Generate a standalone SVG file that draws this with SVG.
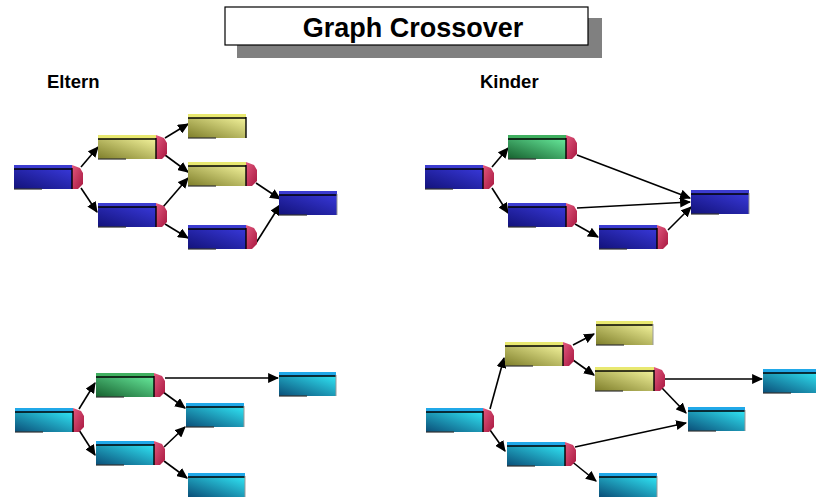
<svg xmlns="http://www.w3.org/2000/svg" width="816" height="497" viewBox="0 0 816 497">
<defs>
<linearGradient id="gBlue" x1="0" y1="1" x2="1" y2="0"><stop offset="0" stop-color="#12127a"/><stop offset="1" stop-color="#3838d8"/></linearGradient>
<linearGradient id="gYel" x1="0" y1="1" x2="1" y2="0"><stop offset="0" stop-color="#7e7e2a"/><stop offset="1" stop-color="#f2f29a"/></linearGradient>
<linearGradient id="gGrn" x1="0" y1="1" x2="1" y2="0"><stop offset="0" stop-color="#16602e"/><stop offset="1" stop-color="#66e89a"/></linearGradient>
<linearGradient id="gCyn" x1="0" y1="1" x2="1" y2="0"><stop offset="0" stop-color="#0a4e78"/><stop offset="1" stop-color="#30e4f4"/></linearGradient>
<linearGradient id="gPink" x1="0" y1="0" x2="1" y2="1"><stop offset="0" stop-color="#e2587e"/><stop offset="1" stop-color="#a81840"/></linearGradient>
<marker id="ah" viewBox="0 0 10 10" refX="9" refY="5" markerWidth="11" markerHeight="10" orient="auto" markerUnits="userSpaceOnUse" preserveAspectRatio="none">
<path d="M0,0 L10,5 L0,10 Z" fill="#000"/>
</marker>
</defs>
<style>
.title{font-family:"Liberation Sans",Arial,sans-serif;font-weight:bold;font-size:27px;fill:#000}
.lbl{font-family:"Liberation Sans",Arial,sans-serif;font-weight:bold;font-size:18.5px;fill:#000}
.top{stroke:none}
.ln{stroke:#000;stroke-width:1.4;fill:none}
.bl{stroke:#333;stroke-width:1.2}
.side{fill:url(#gPink)}
.blue .front{fill:url(#gBlue)} .blue .top{fill:#3c3cd0}
.yel .front{fill:url(#gYel)} .yel .top{fill:#e8e870}
.grn .front{fill:url(#gGrn)} .grn .top{fill:#40b060}
.cyn .front{fill:url(#gCyn)} .cyn .top{fill:#20a8e8}
.re{stroke:#999;stroke-width:1}
#connectors line{stroke:#000;stroke-width:1.6;marker-end:url(#ah)}
</style>
<rect width="816" height="497" fill="#fff"/>
<g id="title">
<rect x="237" y="18" width="365" height="40" fill="#808080"/>
<rect x="225" y="7" width="363" height="38" fill="#fff" stroke="#000" stroke-width="1.2"/>
<text class="title" x="413" y="37" text-anchor="middle">Graph Crossover</text>
</g>
<text class="lbl" x="47" y="88">Eltern</text>
<text class="lbl" x="480" y="88">Kinder</text>

<g id="connectors">
<line x1="81" y1="167" x2="98" y2="147"/>
<line x1="81" y1="188" x2="97" y2="212"/>
<line x1="165" y1="138" x2="188" y2="124"/>
<line x1="165" y1="155" x2="188" y2="172"/>
<line x1="163" y1="207" x2="188" y2="178"/>
<line x1="165" y1="224" x2="188" y2="238"/>
<line x1="256" y1="183" x2="280" y2="199"/>
<line x1="256" y1="243" x2="280" y2="205"/>

<line x1="492" y1="167" x2="508" y2="148"/>
<line x1="492" y1="188" x2="508" y2="213"/>
<line x1="577" y1="155" x2="690" y2="198"/>
<line x1="577" y1="208" x2="690" y2="202"/>
<line x1="575" y1="224" x2="598" y2="237"/>
<line x1="668" y1="230" x2="691" y2="207"/>

<line x1="79" y1="409" x2="95" y2="383"/>
<line x1="79" y1="430" x2="95" y2="455"/>
<line x1="165" y1="378" x2="278" y2="378"/>
<line x1="163" y1="392" x2="185" y2="408"/>
<line x1="164" y1="447" x2="185" y2="427"/>
<line x1="164" y1="461" x2="187" y2="478"/>

<line x1="490" y1="409" x2="504" y2="358"/>
<line x1="490" y1="430" x2="505" y2="451"/>
<line x1="573" y1="345" x2="594" y2="334"/>
<line x1="573" y1="360" x2="594" y2="375"/>
<line x1="665" y1="379" x2="762" y2="379"/>
<line x1="662" y1="388" x2="686" y2="413"/>
<line x1="575" y1="447" x2="686" y2="423"/>
<line x1="570" y1="460" x2="596" y2="481"/>
</g>

<!-- top-left: Eltern 1 -->
<g id="e1a" class="blue" transform="translate(14,165)"><rect class="top" x="0" y="0" width="58" height="4"/><rect class="front" x="0" y="4" width="58" height="20"/><line class="ln" x1="0" y1="4" x2="58" y2="4"/><line class="bl" x1="0" y1="24" x2="28" y2="24"/><path class="side" d="M58,0 L66,3 L69,8 L69,19 L64,24 L58,24Z"/><line class="ln" x1="58" y1="3" x2="58" y2="24"/></g>
<g id="e1b" class="yel" transform="translate(98,135)"><rect class="top" x="0" y="0" width="58" height="4"/><rect class="front" x="0" y="4" width="58" height="20"/><line class="ln" x1="0" y1="4" x2="58" y2="4"/><line class="bl" x1="0" y1="24" x2="28" y2="24"/><path class="side" d="M58,0 L66,3 L69,8 L69,19 L64,24 L58,24Z"/><line class="ln" x1="58" y1="3" x2="58" y2="24"/></g>
<g id="e1c" class="blue" transform="translate(98,203)"><rect class="top" x="0" y="0" width="58" height="4"/><rect class="front" x="0" y="4" width="58" height="20"/><line class="ln" x1="0" y1="4" x2="58" y2="4"/><line class="bl" x1="0" y1="24" x2="28" y2="24"/><path class="side" d="M58,0 L66,3 L69,8 L69,19 L64,24 L58,24Z"/><line class="ln" x1="58" y1="3" x2="58" y2="24"/></g>
<g id="e1d" class="yel" transform="translate(188,114)"><rect class="top" x="0" y="0" width="58" height="4"/><rect class="front" x="0" y="4" width="58" height="20"/><line class="ln" x1="0" y1="4" x2="58" y2="4"/><line class="bl" x1="0" y1="24" x2="28" y2="24"/><line class="ln" x1="58" y1="3" x2="58" y2="24"/></g>
<g id="e1e" class="yel" transform="translate(188,162)"><rect class="top" x="0" y="0" width="58" height="4"/><rect class="front" x="0" y="4" width="58" height="20"/><line class="ln" x1="0" y1="4" x2="58" y2="4"/><line class="bl" x1="0" y1="24" x2="28" y2="24"/><path class="side" d="M58,0 L66,3 L69,8 L69,19 L64,24 L58,24Z"/><line class="ln" x1="58" y1="3" x2="58" y2="24"/></g>
<g id="e1f" class="blue" transform="translate(188,225)"><rect class="top" x="0" y="0" width="58" height="4"/><rect class="front" x="0" y="4" width="58" height="20"/><line class="ln" x1="0" y1="4" x2="58" y2="4"/><line class="bl" x1="0" y1="24" x2="28" y2="24"/><path class="side" d="M58,0 L66,3 L69,8 L69,19 L64,24 L58,24Z"/><line class="ln" x1="58" y1="3" x2="58" y2="24"/></g>
<g id="e1g" class="blue" transform="translate(279,191)"><rect class="top" x="0" y="0" width="58" height="4"/><rect class="front" x="0" y="4" width="58" height="20"/><line class="ln" x1="0" y1="4" x2="58" y2="4"/><line class="bl" x1="0" y1="24" x2="28" y2="24"/><line class="re" x1="58" y1="3" x2="58" y2="24"/></g>

<!-- top-right: Kinder 1 -->
<g id="k1a" class="blue" transform="translate(425,165)"><rect class="top" x="0" y="0" width="58" height="4"/><rect class="front" x="0" y="4" width="58" height="20"/><line class="ln" x1="0" y1="4" x2="58" y2="4"/><line class="bl" x1="0" y1="24" x2="28" y2="24"/><path class="side" d="M58,0 L66,3 L69,8 L69,19 L64,24 L58,24Z"/><line class="ln" x1="58" y1="3" x2="58" y2="24"/></g>
<g id="k1b" class="grn" transform="translate(508,135)"><rect class="top" x="0" y="0" width="58" height="4"/><rect class="front" x="0" y="4" width="58" height="20"/><line class="ln" x1="0" y1="4" x2="58" y2="4"/><line class="bl" x1="0" y1="24" x2="28" y2="24"/><path class="side" d="M58,0 L66,3 L69,8 L69,19 L64,24 L58,24Z"/><line class="ln" x1="58" y1="3" x2="58" y2="24"/></g>
<g id="k1c" class="blue" transform="translate(508,203)"><rect class="top" x="0" y="0" width="58" height="4"/><rect class="front" x="0" y="4" width="58" height="20"/><line class="ln" x1="0" y1="4" x2="58" y2="4"/><line class="bl" x1="0" y1="24" x2="28" y2="24"/><path class="side" d="M58,0 L66,3 L69,8 L69,19 L64,24 L58,24Z"/><line class="ln" x1="58" y1="3" x2="58" y2="24"/></g>
<g id="k1d" class="blue" transform="translate(599,225)"><rect class="top" x="0" y="0" width="58" height="4"/><rect class="front" x="0" y="4" width="58" height="20"/><line class="ln" x1="0" y1="4" x2="58" y2="4"/><line class="bl" x1="0" y1="24" x2="28" y2="24"/><path class="side" d="M58,0 L66,3 L69,8 L69,19 L64,24 L58,24Z"/><line class="ln" x1="58" y1="3" x2="58" y2="24"/></g>
<g id="k1e" class="blue" transform="translate(691,190)"><rect class="top" x="0" y="0" width="58" height="4"/><rect class="front" x="0" y="4" width="58" height="20"/><line class="ln" x1="0" y1="4" x2="58" y2="4"/><line class="bl" x1="0" y1="24" x2="28" y2="24"/><line class="re" x1="58" y1="3" x2="58" y2="24"/></g>

<!-- bottom-left: Eltern 2 -->
<g id="e2a" class="cyn" transform="translate(15,408)"><rect class="top" x="0" y="0" width="58" height="4"/><rect class="front" x="0" y="4" width="58" height="20"/><line class="ln" x1="0" y1="4" x2="58" y2="4"/><line class="bl" x1="0" y1="24" x2="28" y2="24"/><path class="side" d="M58,0 L66,3 L69,8 L69,19 L64,24 L58,24Z"/><line class="ln" x1="58" y1="3" x2="58" y2="24"/></g>
<g id="e2b" class="grn" transform="translate(96,373)"><rect class="top" x="0" y="0" width="58" height="4"/><rect class="front" x="0" y="4" width="58" height="20"/><line class="ln" x1="0" y1="4" x2="58" y2="4"/><line class="bl" x1="0" y1="24" x2="28" y2="24"/><path class="side" d="M58,0 L66,3 L69,8 L69,19 L64,24 L58,24Z"/><line class="ln" x1="58" y1="3" x2="58" y2="24"/></g>
<g id="e2c" class="cyn" transform="translate(96,441)"><rect class="top" x="0" y="0" width="58" height="4"/><rect class="front" x="0" y="4" width="58" height="20"/><line class="ln" x1="0" y1="4" x2="58" y2="4"/><line class="bl" x1="0" y1="24" x2="28" y2="24"/><path class="side" d="M58,0 L66,3 L69,8 L69,19 L64,24 L58,24Z"/><line class="ln" x1="58" y1="3" x2="58" y2="24"/></g>
<g id="e2d" class="cyn" transform="translate(279,372)"><rect class="top" x="0" y="0" width="57" height="4"/><rect class="front" x="0" y="4" width="57" height="20"/><line class="ln" x1="0" y1="4" x2="57" y2="4"/><line class="bl" x1="0" y1="24" x2="28" y2="24"/><line class="re" x1="57" y1="3" x2="57" y2="24"/></g>
<g id="e2e" class="cyn" transform="translate(186,403)"><rect class="top" x="0" y="0" width="58" height="4"/><rect class="front" x="0" y="4" width="58" height="20"/><line class="ln" x1="0" y1="4" x2="58" y2="4"/><line class="bl" x1="0" y1="24" x2="28" y2="24"/><line class="re" x1="58" y1="3" x2="58" y2="24"/></g>
<g id="e2f" class="cyn" transform="translate(188,473)"><rect class="top" x="0" y="0" width="57" height="4"/><rect class="front" x="0" y="4" width="57" height="20"/><line class="ln" x1="0" y1="4" x2="57" y2="4"/><line class="re" x1="57" y1="3" x2="57" y2="24"/></g>

<!-- bottom-right: Kinder 2 -->
<g id="k2a" class="cyn" transform="translate(426,408)"><rect class="top" x="0" y="0" width="57" height="4"/><rect class="front" x="0" y="4" width="57" height="20"/><line class="ln" x1="0" y1="4" x2="57" y2="4"/><line class="bl" x1="0" y1="24" x2="28" y2="24"/><path class="side" d="M57,0 L65,3 L68,8 L68,19 L63,24 L57,24Z"/><line class="ln" x1="57" y1="3" x2="57" y2="24"/></g>
<g id="k2b" class="yel" transform="translate(505,342)"><rect class="top" x="0" y="0" width="58" height="4"/><rect class="front" x="0" y="4" width="58" height="20"/><line class="ln" x1="0" y1="4" x2="58" y2="4"/><line class="bl" x1="0" y1="24" x2="28" y2="24"/><path class="side" d="M58,0 L66,3 L69,8 L69,19 L64,24 L58,24Z"/><line class="ln" x1="58" y1="3" x2="58" y2="24"/></g>
<g id="k2c" class="cyn" transform="translate(507,442)"><rect class="top" x="0" y="0" width="58" height="4"/><rect class="front" x="0" y="4" width="58" height="20"/><line class="ln" x1="0" y1="4" x2="58" y2="4"/><line class="bl" x1="0" y1="24" x2="28" y2="24"/><path class="side" d="M58,0 L66,3 L69,8 L69,19 L64,24 L58,24Z"/><line class="ln" x1="58" y1="3" x2="58" y2="24"/></g>
<g id="k2d" class="yel" transform="translate(596,321)"><rect class="top" x="0" y="0" width="57" height="4"/><rect class="front" x="0" y="4" width="57" height="20"/><line class="ln" x1="0" y1="4" x2="57" y2="4"/><line class="bl" x1="0" y1="24" x2="28" y2="24"/><line class="re" x1="57" y1="3" x2="57" y2="24"/></g>
<g id="k2e" class="yel" transform="translate(595,367)"><rect class="top" x="0" y="0" width="59" height="4"/><rect class="front" x="0" y="4" width="59" height="20"/><line class="ln" x1="0" y1="4" x2="59" y2="4"/><line class="bl" x1="0" y1="24" x2="28" y2="24"/><path class="side" d="M59,0 L67,3 L70,8 L70,19 L65,24 L59,24Z"/><line class="ln" x1="59" y1="3" x2="59" y2="24"/></g>
<g id="k2f" class="cyn" transform="translate(763,369)"><rect class="top" x="0" y="0" width="58" height="4"/><rect class="front" x="0" y="4" width="58" height="20"/><line class="ln" x1="0" y1="4" x2="58" y2="4"/><line class="bl" x1="0" y1="24" x2="28" y2="24"/></g>
<g id="k2g" class="cyn" transform="translate(688,407)"><rect class="top" x="0" y="0" width="57" height="4"/><rect class="front" x="0" y="4" width="57" height="20"/><line class="ln" x1="0" y1="4" x2="57" y2="4"/><line class="bl" x1="0" y1="24" x2="28" y2="24"/><line class="re" x1="57" y1="3" x2="57" y2="24"/></g>
<g id="k2h" class="cyn" transform="translate(599,473)"><rect class="top" x="0" y="0" width="58" height="4"/><rect class="front" x="0" y="4" width="58" height="20"/><line class="ln" x1="0" y1="4" x2="58" y2="4"/><line class="re" x1="58" y1="3" x2="58" y2="24"/></g>
</svg>
